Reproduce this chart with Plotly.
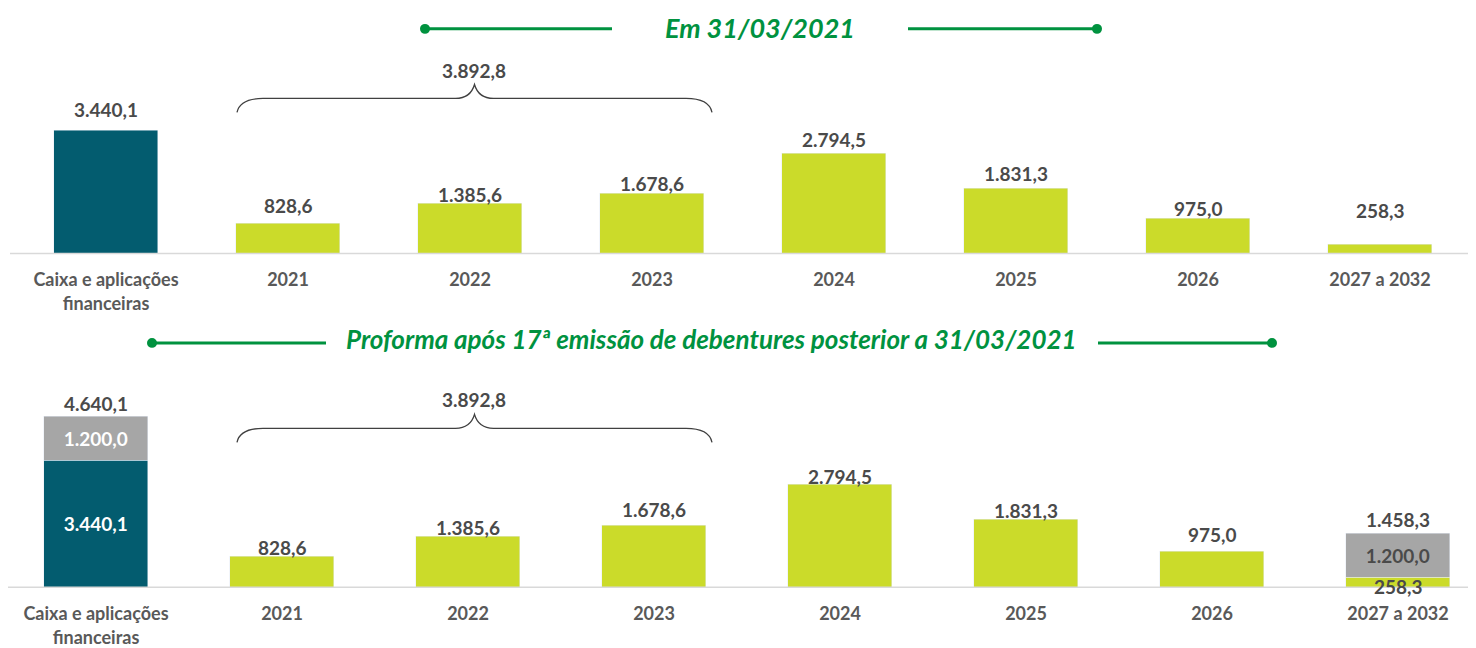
import plotly.graph_objects as go

# Page has an 8px default body margin; the figure is sized to fill the rest.
OFF = 8
W, H = 1476 - OFF, 648 - OFF

# ---------------- data ----------------
categories = ["Caixa e aplicações<br>financeiras", "2021", "2022", "2023",
              "2024", "2025", "2026", "2027 a 2032"]
top_cash = [3440.1]
top_debt = [828.6, 1385.6, 1678.6, 2794.5, 1831.3, 975.0, 258.3]
bot_cash = [3440.1]
bot_debt = [828.6, 1385.6, 1678.6, 2794.5, 1831.3, 975.0, 258.3]
bot_new_cash = [1200.0]      # on top of cash
bot_new_debt = [1200.0]      # on top of 2027 a 2032
brace_total = 3892.8
title_top = "Em 31/03/2021"
title_bot = "Proforma após 17ª emissão de debentures posterior a 31/03/2021"

# ---------------- styles ----------------
TEAL = "#035C6F"
LIME = "#CBDB2A"
GRAY = "#A6A6A6"
GREEN = "#00923F"
TXT = "#4A4A4A"
FONT = "Lato"
BAR_W_TOP = 0.566
BAR_W_BOT = 0.559
top_shift = [22, 18, 10, 10, 15, 15, 10, 34]
bot_shift = [9, 9, 16, 8, 9, 17]


def fmt(v):
    s = f"{v:,.1f}"
    return s.replace(",", "X").replace(".", ",").replace("X", ".")


def px(x):
    return (x - OFF) / W


def py(y):
    return 1 - (y - OFF) / H


idx = list(range(len(categories)))
cash_idx = idx[:1]
debt_idx = idx[1:]

fig = go.Figure()

# top panel
fig.add_trace(go.Bar(x=cash_idx, y=top_cash, marker_color=TEAL, width=BAR_W_TOP,
                     xaxis="x", yaxis="y", showlegend=False, hoverinfo="skip"))
fig.add_trace(go.Bar(x=debt_idx, y=top_debt, marker_color=LIME, width=BAR_W_TOP,
                     xaxis="x", yaxis="y", showlegend=False, hoverinfo="skip"))

# bottom panel
fig.add_trace(go.Bar(x=cash_idx, y=bot_cash, marker_color=TEAL, width=BAR_W_BOT,
                     text=[fmt(v) for v in bot_cash], textposition="inside",
                     insidetextanchor="middle", textangle=0,
                     textfont=dict(family=FONT, size=19, color="white", weight="bold"),
                     xaxis="x2", yaxis="y2", showlegend=False, hoverinfo="skip"))
fig.add_trace(go.Bar(x=debt_idx, y=bot_debt, marker_color=LIME, width=BAR_W_BOT,
                     xaxis="x2", yaxis="y2", showlegend=False, hoverinfo="skip"))
new_x = [cash_idx[0], debt_idx[-1]]
new_y = bot_new_cash + bot_new_debt
fig.add_trace(go.Bar(x=new_x, y=new_y, marker_color=GRAY, width=BAR_W_BOT,
                     text=[fmt(v) for v in new_y], textposition="inside",
                     insidetextanchor="middle", textangle=0,
                     textfont=dict(family=FONT, size=19, color=["white", TXT], weight="bold"),
                     xaxis="x2", yaxis="y2", showlegend=False, hoverinfo="skip"))

annotations = []
vfont = dict(family=FONT, size=19, color=TXT, weight="bold")
# top value labels
top_vals = top_cash + top_debt
for i, v in enumerate(top_vals):
    annotations.append(dict(x=i, y=v, xref="x", yref="y", text=fmt(v), showarrow=False,
                            yanchor="middle", yshift=top_shift[i], font=vfont))
# bottom value labels (debt bars without new issuance on top)
for j, v in enumerate(bot_debt[:-1]):
    annotations.append(dict(x=debt_idx[j], y=v, xref="x2", yref="y2", text=fmt(v),
                            showarrow=False, yanchor="middle", yshift=bot_shift[j], font=vfont))
cash_total = bot_cash[0] + bot_new_cash[0]
last_total = bot_debt[-1] + bot_new_debt[0]
annotations.append(dict(x=cash_idx[0], y=cash_total, xref="x2", yref="y2", text=fmt(cash_total),
                        showarrow=False, yanchor="middle", yshift=13, font=vfont))
annotations.append(dict(x=debt_idx[-1], y=last_total, xref="x2", yref="y2", text=fmt(last_total),
                        showarrow=False, yanchor="middle", yshift=14, font=vfont))
annotations.append(dict(x=debt_idx[-1], y=bot_debt[-1] / 2, xref="x2", yref="y2",
                        text=fmt(bot_debt[-1]), showarrow=False, yanchor="middle", yshift=-4,
                        font=vfont))

# titles
tfont = dict(family=FONT, color=GREEN, weight="bold", style="italic")
annotations.append(dict(x=px(760), y=py(28), xref="paper", yref="paper", text=title_top,
                        showarrow=False, xanchor="center", yanchor="middle",
                        font=dict(size=27, **tfont)))
annotations.append(dict(x=px(711), y=py(341), xref="paper", yref="paper", text=title_bot,
                        showarrow=False, xanchor="center", yanchor="middle",
                        font=dict(size=26, **tfont)))

# brace labels
for ylab in (71, 402):
    annotations.append(dict(x=px(474), y=py(ylab), xref="paper", yref="paper",
                            text=fmt(brace_total), showarrow=False, xanchor="center",
                            yanchor="middle", font=vfont))

shapes = []
# baselines
for yb, x0 in ((255, 10), (591, 8)):
    shapes.append(dict(type="line", xref="paper", yref="paper", x0=px(x0), x1=1,
                       y0=py(yb), y1=py(yb), line=dict(color="#D9D9D9", width=1.5)))
# title lines with dots
for (a, b, c, d, yl) in ((425, 612, 908, 1097, 29), (152, 326, 1098, 1272, 345)):
    for (s, e) in ((a, b), (c, d)):
        shapes.append(dict(type="line", xref="paper", yref="paper", x0=px(s), x1=px(e),
                           y0=py(yl), y1=py(yl), line=dict(color=GREEN, width=3)))
    for xc in (a, d):
        r = 5
        shapes.append(dict(type="circle", xref="paper", yref="paper",
                           x0=px(xc - r), x1=px(xc + r), y0=py(yl + r), y1=py(yl - r),
                           fillcolor=GREEN, line=dict(width=0)))


# braces
def brace(x0, x1, ytip, yh, ypk):
    xm = (x0 + x1) / 2
    pts = [
        ("M", [(x0, ytip)]),
        ("Q", [(x0 + 3, yh), (x0 + 26, yh)]),
        ("L", [(xm - 19, yh)]),
        ("Q", [(xm - 4, yh), (xm, ypk)]),
        ("Q", [(xm + 4, yh), (xm + 19, yh)]),
        ("L", [(x1 - 26, yh)]),
        ("Q", [(x1 - 3, yh), (x1, ytip)]),
    ]
    s = ""
    for cmd, ps in pts:
        s += cmd + " " + " ".join(f"{px(x):.5f},{py(y):.5f}" for x, y in ps) + " "
    return s.strip()


shapes.append(dict(type="path", xref="paper", yref="paper", path=brace(237, 712, 113, 99, 85),
                   line=dict(color="#404040", width=1.3)))
shapes.append(dict(type="path", xref="paper", yref="paper", path=brace(237, 712, 445, 431, 417),
                   line=dict(color="#404040", width=1.3)))

tickfont = dict(family=FONT, size=18, color="#595959", weight="bold")
K_TOP = 0.0358   # px per unit
K_BOT = 0.0371

fig.update_layout(
    width=W, height=H, margin=dict(l=0, r=0, t=0, b=0),
    paper_bgcolor="white", plot_bgcolor="white",
    barmode="stack", bargap=0,
    xaxis=dict(domain=[0, 1], range=[-(106 - OFF) / 182, (W + OFF - 106) / 182], tickvals=idx,
               ticktext=categories, tickfont=tickfont, showgrid=False, zeroline=False,
               showline=False, ticks="", ticklabelstandoff=14, anchor="y", fixedrange=True),
    yaxis=dict(domain=[py(255), py(55)], range=[0, 200 / K_TOP], visible=False,
               anchor="x", fixedrange=True),
    xaxis2=dict(domain=[0, 1], range=[-(96 - OFF) / 186, (W + OFF - 96) / 186], tickvals=idx,
                ticktext=categories, tickfont=tickfont, showgrid=False, zeroline=False,
                showline=False, ticks="", ticklabelstandoff=14, anchor="y2", fixedrange=True),
    yaxis2=dict(domain=[py(591), py(391)], range=[0, 200 / K_BOT], visible=False,
                anchor="x2", fixedrange=True),
    annotations=annotations, shapes=shapes,
)

fig.write_html("out.html")
